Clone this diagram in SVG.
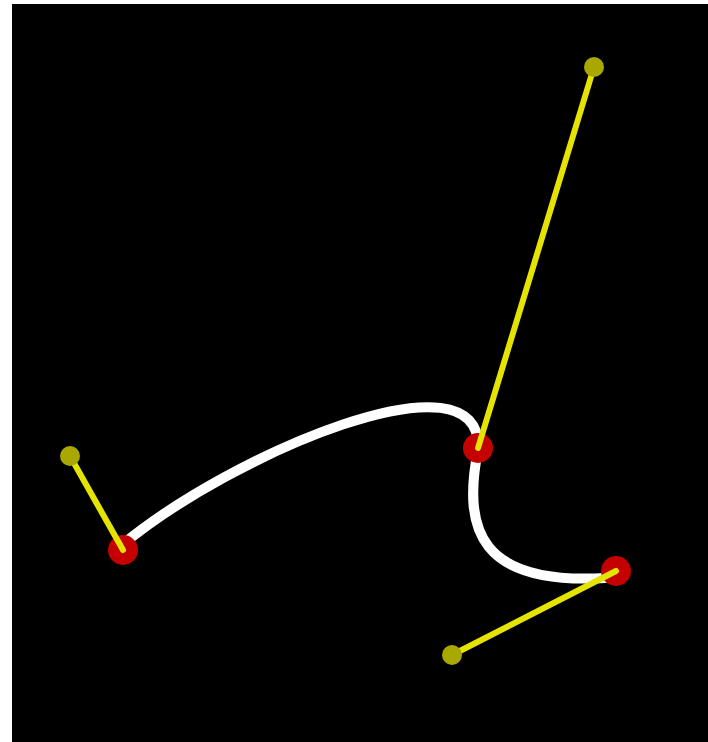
<svg xmlns="http://www.w3.org/2000/svg" width="708" height="742" viewBox="0 0 708 742">
<style>
.curve{fill:none;stroke:#ffffff;stroke-width:10;stroke-linecap:round}
.handle{stroke:#e4e400;stroke-width:6;stroke-linecap:round}
.anchor{fill:#c40000}
.knob{fill:#a8a800}
</style>
<rect x="0" y="0" width="708" height="742" fill="#ffffff"/>
<rect x="12" y="4" width="696" height="738" fill="#000000"/>
<g id="connectors">
<path class="curve" d="M122,545 C230,455 485,345 478,450 C462,530 480,585 605,578"/>
</g>
<g id="anchor0"><circle class="anchor" cx="123" cy="550" r="15"/></g>
<g id="anchor1"><circle class="anchor" cx="478" cy="448" r="15"/></g>
<g id="anchor2"><circle class="anchor" cx="616" cy="571" r="15"/></g>
<g id="handle0"><line class="handle" x1="70" y1="456" x2="123" y2="550"/><circle class="knob" cx="70" cy="456" r="10"/></g>
<g id="handle1"><line class="handle" x1="594" y1="67" x2="478" y2="448"/><circle class="knob" cx="594" cy="67" r="10"/></g>
<g id="handle2"><line class="handle" x1="452" y1="655" x2="616" y2="571"/><circle class="knob" cx="452" cy="655" r="10"/></g>
</svg>
